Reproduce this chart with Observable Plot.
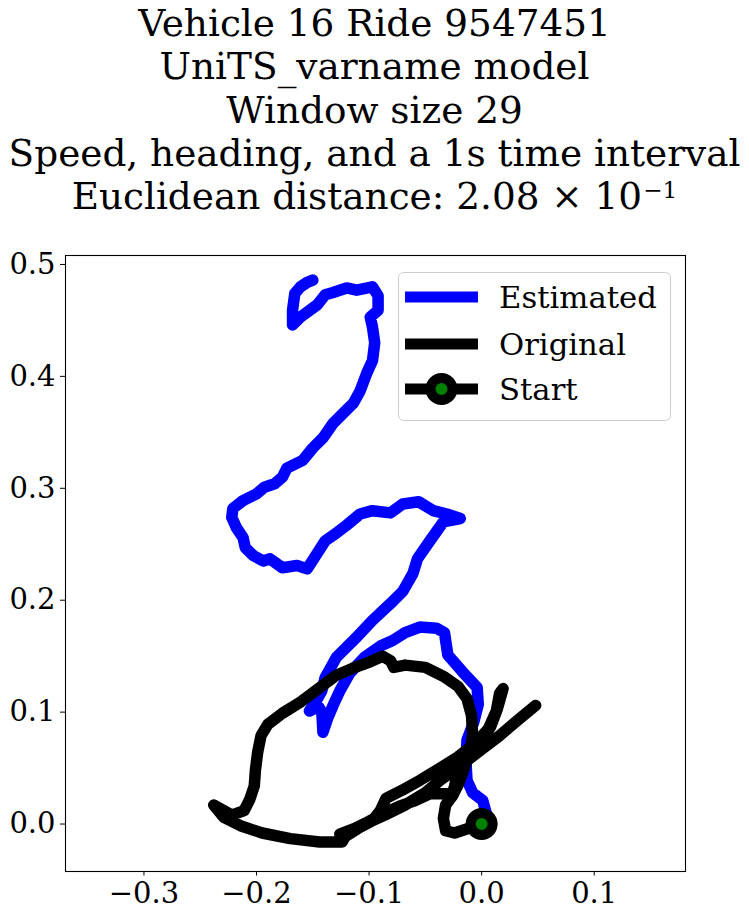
<!DOCTYPE html>
<html>
<head>
<meta charset="utf-8">
<script src="https://cdn.jsdelivr.net/npm/d3@7"></script>
<script src="https://cdn.jsdelivr.net/npm/@observablehq/plot@0.6"></script>
<style>
  html, body { margin: 0; padding: 0; background: white; }
  #wrap { position: relative; width: 749px; height: 918px; font-family: "DejaVu Serif", serif; }
  #title { position: absolute; left: 0; top: 0; }
  #chart { position: absolute; left: 0; top: 230px; }
  #legend { position: absolute; left: 398px; top: 272px; }
</style>
</head>
<body>
<div id="wrap">
  <svg id="title" width="749" height="230" xmlns="http://www.w3.org/2000/svg"></svg>
  <div id="chart"></div>
  <svg id="legend" width="273" height="149" xmlns="http://www.w3.org/2000/svg"></svg>
</div>
<script>
// ---- Data ----
const titleLines = [
  "Vehicle 16 Ride 9547451",
  "UniTS_varname model",
  "Window size 29",
  "Speed, heading, and a 1s time interval"
];
const distanceLabel = "Euclidean distance: ";
const distanceMantissa = "2.08";
const distanceExponent = "\u22121";

const legendLabels = ["Estimated", "Original", "Start"];

const xTicks = [-0.3, -0.2, -0.1, 0.0, 0.1];
const yTicks = [0.0, 0.1, 0.2, 0.3, 0.4, 0.5];

// Estimated trajectory
const estX = [0, 0.004, 0.001, -0.008, -0.013, -0.014, -0.013, -0.007, -0.003, -0.004,
  -0.017, -0.030, -0.032, -0.033, -0.040, -0.055, -0.068, -0.079, -0.090, -0.104,
  -0.117, -0.126, -0.132, -0.137, -0.141, -0.142, -0.145, -0.153, -0.147, -0.142,
  -0.139, -0.129, -0.111, -0.097, -0.081, -0.070, -0.061, -0.057, -0.046, -0.034,
  -0.019, -0.031, -0.043, -0.056, -0.070, -0.081, -0.097, -0.108, -0.120, -0.129,
  -0.139, -0.146, -0.155, -0.164, -0.177, -0.188, -0.194, -0.203, -0.210, -0.212,
  -0.218, -0.222, -0.221, -0.212, -0.200, -0.193, -0.184, -0.177, -0.173, -0.159,
  -0.150, -0.141, -0.132, -0.120, -0.114, -0.108, -0.102, -0.097, -0.095, -0.097,
  -0.099, -0.092, -0.092, -0.097, -0.111, -0.120, -0.132, -0.139, -0.146, -0.161,
  -0.168, -0.168, -0.166, -0.161, -0.155, -0.150];
const estY = [0, 0.010, 0.021, 0.028, 0.039, 0.057, 0.075, 0.091, 0.107, 0.122,
  0.136, 0.151, 0.164, 0.171, 0.175, 0.176, 0.171, 0.164, 0.159, 0.149,
  0.135, 0.119, 0.106, 0.094, 0.082, 0.100, 0.105, 0.101, 0.110, 0.119,
  0.131, 0.149, 0.167, 0.182, 0.197, 0.208, 0.224, 0.237, 0.253, 0.270,
  0.273, 0.277, 0.280, 0.288, 0.286, 0.278, 0.280, 0.277, 0.267, 0.260,
  0.253, 0.242, 0.228, 0.231, 0.229, 0.237, 0.235, 0.240, 0.247, 0.256,
  0.265, 0.274, 0.282, 0.289, 0.295, 0.301, 0.304, 0.310, 0.318, 0.325,
  0.336, 0.345, 0.358, 0.370, 0.376, 0.387, 0.403, 0.414, 0.430, 0.444,
  0.453, 0.459, 0.472, 0.480, 0.477, 0.479, 0.475, 0.473, 0.464, 0.453,
  0.446, 0.459, 0.474, 0.480, 0.484, 0.486];

// Original trajectory
const origX = [0, -0.012, -0.024, -0.032, -0.034, -0.032, -0.026, -0.021, -0.016, -0.011,
  -0.008, -0.009, -0.013, -0.021, -0.034, -0.050, -0.068, -0.078, -0.081, -0.088,
  -0.099, -0.115, -0.129, -0.145, -0.161, -0.177, -0.190, -0.196, -0.199, -0.201,
  -0.202, -0.206, -0.211, -0.222, -0.238, -0.229, -0.213, -0.195, -0.170, -0.144,
  -0.124, -0.121, -0.110, -0.097, -0.090, -0.085, -0.071, -0.055, -0.037, -0.021,
  -0.007, 0.006, 0.013, 0.016, 0.019, 0.014, 0.008, -0.001, -0.012, -0.021,
  -0.024, -0.026, -0.037, -0.046, -0.059, -0.073, -0.088, -0.101, -0.115, -0.126,
  -0.108, -0.086, -0.068, -0.050, -0.037, -0.019, -0.001, 0.016, 0.030, 0.048];
const origY = [0, -0.004, -0.008, -0.006, 0.005, 0.017, 0.025, 0.035, 0.048, 0.062,
  0.079, 0.097, 0.112, 0.123, 0.132, 0.140, 0.142, 0.140, 0.146, 0.150,
  0.145, 0.139, 0.133, 0.121, 0.109, 0.099, 0.089, 0.079, 0.064, 0.048,
  0.034, 0.022, 0.012, 0.008, 0.017, 0.006, -0.002, -0.008, -0.013, -0.016,
  -0.016, -0.011, -0.004, 0.003, 0.012, 0.023, 0.030, 0.039, 0.050, 0.060,
  0.071, 0.085, 0.101, 0.117, 0.121, 0.103, 0.087, 0.073, 0.061, 0.048,
  0.034, 0.027, 0.027, 0.027, 0.021, 0.016, 0.009, 0.002, -0.005, -0.009,
  -0.002, 0.008, 0.017, 0.028, 0.039, 0.052, 0.066, 0.079, 0.091, 0.106];

const startX = [0];
const startY = [0];

// ---- Tables ----
const est = estX.map((x, i) => ({x, y: estY[i]}));
const orig = origX.map((x, i) => ({x, y: origY[i]}));
const start = startX.map((x, i) => ({x, y: startY[i]}));

// ---- Title ----
const NS = "http://www.w3.org/2000/svg";
const titleSvg = document.getElementById("title");
const titleFont = 37.4;
const lineGap = 43.3;
function addText(svg, x, y, str, opts = {}) {
  const t = document.createElementNS(NS, "text");
  t.setAttribute("x", x);
  t.setAttribute("y", y);
  t.setAttribute("font-family", "DejaVu Serif");
  t.setAttribute("font-size", opts.size || titleFont);
  t.setAttribute("text-anchor", opts.anchor || "middle");
  t.setAttribute("fill", "black");
  t.textContent = str;
  svg.appendChild(t);
  return t;
}
titleLines.forEach((s, i) => addText(titleSvg, 374.5, 36 + i * lineGap, s));
{
  const t = addText(titleSvg, 374.5, 36 + 4 * lineGap, distanceLabel + distanceMantissa + " \u00d7 10");
  const sup = document.createElementNS(NS, "tspan");
  sup.setAttribute("font-size", titleFont * 0.62);
  sup.setAttribute("dy", -11);
  sup.setAttribute("dx", 1);
  sup.textContent = distanceExponent;
  t.appendChild(sup);
}

// ---- Chart ----
const fmt = d3.format(".1f");
const chart = Plot.plot({
  width: 749,
  height: 688,
  marginTop: 25,
  marginBottom: 47,
  marginLeft: 65,
  marginRight: 64,
  style: {fontFamily: "DejaVu Serif", color: "black", background: "white", overflow: "visible"},
  x: {domain: [-0.3697, 0.1811]},
  y: {domain: [-0.0424, 0.508]},
  marks: [
    Plot.line(est, {x: "x", y: "y", stroke: "blue", strokeWidth: 11.5, strokeLinecap: "round", strokeLinejoin: "round"}),
    Plot.line(orig, {x: "x", y: "y", stroke: "black", strokeWidth: 11.5, strokeLinecap: "round", strokeLinejoin: "round"}),
    Plot.dot(start, {x: "x", y: "y", r: 11, fill: "green", stroke: "black", strokeWidth: 10}),
    Plot.frame({stroke: "black", strokeWidth: 1.1}),
    Plot.axisX({ticks: xTicks, tickFormat: fmt, tickSize: 4.5, tickPadding: 6, fontSize: 29, label: null}),
    Plot.axisY({ticks: yTicks, tickFormat: fmt, tickSize: 5, tickPadding: 5, fontSize: 29, label: null})
  ]
});
document.getElementById("chart").appendChild(chart);

// ---- Legend ----
const lg = document.getElementById("legend");
const box = document.createElementNS(NS, "rect");
box.setAttribute("x", 0.5); box.setAttribute("y", 0.5);
box.setAttribute("width", 272); box.setAttribute("height", 148);
box.setAttribute("rx", 5); box.setAttribute("ry", 5);
box.setAttribute("fill", "rgba(255,255,255,0.8)");
box.setAttribute("stroke", "#cccccc");
box.setAttribute("stroke-width", 1);
lg.appendChild(box);
const legendColors = ["blue", "black", "black"];
const rowY = [25, 72, 117];
legendLabels.forEach((lab, i) => {
  const ln = document.createElementNS(NS, "line");
  ln.setAttribute("x1", 7); ln.setAttribute("x2", 80);
  ln.setAttribute("y1", rowY[i]); ln.setAttribute("y2", rowY[i]);
  ln.setAttribute("stroke", legendColors[i]);
  ln.setAttribute("stroke-width", 11);
  lg.appendChild(ln);
  if (i === 2) {
    const c = document.createElementNS(NS, "circle");
    c.setAttribute("cx", 43.5); c.setAttribute("cy", rowY[i]);
    c.setAttribute("r", 11);
    c.setAttribute("fill", "green");
    c.setAttribute("stroke", "black");
    c.setAttribute("stroke-width", 10);
    lg.appendChild(c);
  }
  addText(lg, 101, rowY[i] + 11, lab, {size: 30.7, anchor: "start"});
});
</script>
</body>
</html>
